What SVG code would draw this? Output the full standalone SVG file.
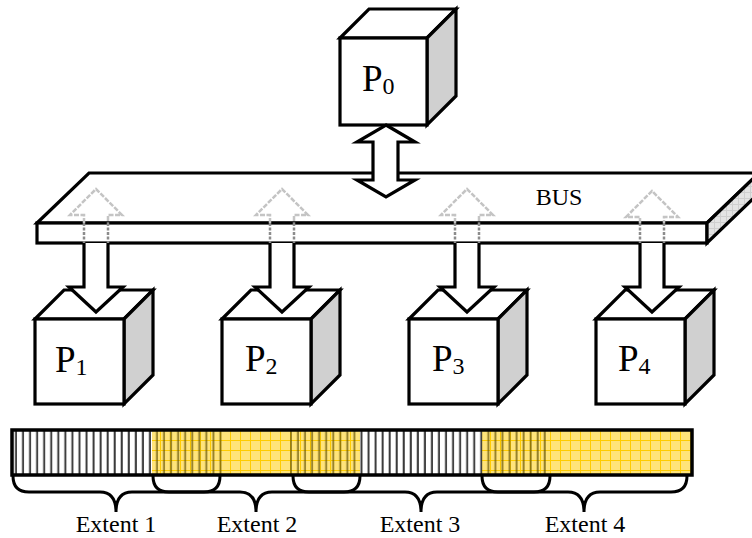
<svg xmlns="http://www.w3.org/2000/svg" width="752" height="538" viewBox="0 0 752 538">
<style>
.ln{stroke:#000;stroke-width:3.2;stroke-linejoin:miter;fill:#fff}
.side{stroke:#000;stroke-width:3.2;fill:#d0d0d0}
.lbl{font-family:"Liberation Serif","Times New Roman",serif;fill:#000}
.pl{font-size:37px}
.sub{font-size:24px}
.ext{font-size:24px;text-anchor:middle}
.ghost{fill:none;stroke:#c4c4c4;stroke-width:2.5;stroke-dasharray:5 1.5}
.ghostin{fill:none;stroke:#8c8c8c;stroke-width:2.5;stroke-dasharray:3 1.5}
.conn{fill:#fff;stroke:#000;stroke-width:3.2;stroke-linejoin:miter}
.brace{fill:none;stroke:#000;stroke-width:3}
</style>
<defs>
<pattern id="stripes" x="10" y="0" width="7.05" height="10" patternUnits="userSpaceOnUse">
<rect x="5" y="0" width="2" height="10" fill="#3a3a3a"/>
</pattern>
<pattern id="grid" x="0" y="430" width="10" height="10" patternUnits="userSpaceOnUse">
<rect width="10" height="10" fill="#ffe47a"/>
<rect x="0" y="0" width="10" height="1" fill="#ffcc00"/>
<rect x="0" y="0" width="1" height="10" fill="#ffcc00"/>
</pattern>
<pattern id="dstripes" x="10" y="0" width="7.05" height="10" patternUnits="userSpaceOnUse">
<rect x="5" y="0" width="2" height="10" fill="#5a4a00" opacity="0.65"/>
</pattern>
<pattern id="hatch" width="6" height="6" patternUnits="userSpaceOnUse">
<rect width="6" height="6" fill="#e4e4e4"/>
<rect width="6" height="1" fill="#cfcfcf"/>
<rect width="1" height="6" fill="#cfcfcf"/>
</pattern>
</defs>

<g id="bus">
<polygon class="ln" points="37,223 89,173 759,173 707,223"/>
<rect class="ln" x="37" y="223" width="670" height="20"/>
<polygon points="707,223 759,173 759,193 707,243" fill="url(#hatch)" stroke="#000" stroke-width="3.2"/>
<text class="lbl" x="559" y="205" font-size="24" text-anchor="middle">BUS</text>
</g>

<g id="P0">
<polygon class="ln" points="340,38 369,9 456,9 427,38"/>
<polygon class="side" points="427,38 456,9 456,96 427,125"/>
<rect class="ln" x="340" y="38" width="87" height="87"/>
<text class="lbl pl" x="362" y="91">P<tspan class="sub" dy="3">0</tspan></text>
</g>

<g id="P1">
<polygon class="ln" points="35,319 64,290 153,290 124,319"/>
<polygon class="side" points="124,319 153,290 153,375 124,404"/>
<rect class="ln" x="35" y="319" width="89" height="85"/>
<text class="lbl pl" x="55" y="372">P<tspan class="sub" dy="3">1</tspan></text>
</g>

<g id="P2">
<polygon class="ln" points="222,319 251,290 340,290 311,319"/>
<polygon class="side" points="311,319 340,290 340,375 311,404"/>
<rect class="ln" x="222" y="319" width="89" height="85"/>
<text class="lbl pl" x="245" y="371">P<tspan class="sub" dy="3">2</tspan></text>
</g>

<g id="P3">
<polygon class="ln" points="409,319 438,290 527,290 498,319"/>
<polygon class="side" points="498,319 527,290 527,375 498,404"/>
<rect class="ln" x="409" y="319" width="89" height="85"/>
<text class="lbl pl" x="432" y="371">P<tspan class="sub" dy="3">3</tspan></text>
</g>

<g id="P4">
<polygon class="ln" points="596,319 625,290 714,290 685,319"/>
<polygon class="side" points="685,319 714,290 714,375 685,404"/>
<rect class="ln" x="596" y="319" width="89" height="85"/>
<text class="lbl pl" x="618" y="371">P<tspan class="sub" dy="3">4</tspan></text>
</g>

<g id="memory">
<rect x="12" y="430" width="140" height="45" fill="#fff"/>
<rect x="12" y="430" width="140" height="45" fill="url(#stripes)"/>
<rect x="360" y="430" width="122" height="45" fill="#fff"/>
<rect x="360" y="430" width="122" height="45" fill="url(#stripes)"/>
<rect x="152" y="430" width="208" height="45" fill="url(#grid)"/>
<rect x="482" y="430" width="210" height="45" fill="url(#grid)"/>
<rect x="152" y="430" width="71" height="45" fill="url(#dstripes)"/>
<rect x="290" y="430" width="70" height="45" fill="url(#dstripes)"/>
<rect x="482" y="430" width="68" height="45" fill="url(#dstripes)"/>
<rect x="12" y="430" width="680" height="45" fill="none" stroke="#000" stroke-width="3.5"/>
</g>

<g id="extents">
<path class="brace" d="M13,476 Q13,492 29,492 L100,492 Q116,492 116,512 Q116,492 132,492 L204,492 Q220,492 220,476"/>
<path class="brace" d="M153,476 Q153,492 169,492 L240,492 Q256,492 256,512 Q256,492 272,492 L344,492 Q360,492 360,476"/>
<path class="brace" d="M293,476 Q293,492 309,492 L405,492 Q421,492 421,512 Q421,492 437,492 L534,492 Q550,492 550,476"/>
<path class="brace" d="M482,476 Q482,492 498,492 L568,492 Q584,492 584,512 Q584,492 600,492 L671,492 Q687,492 687,476"/>
<text class="lbl ext" x="116" y="532">Extent 1</text>
<text class="lbl ext" x="257" y="532">Extent 2</text>
<text class="lbl ext" x="420" y="532">Extent 3</text>
<text class="lbl ext" x="585" y="532">Extent 4</text>
</g>

<g id="connectors">
<path class="conn" d="M386,125 L415,142 L398,142 L398,180 L415,180 L386,197 L357,180 L373,180 L373,142 L357,142 Z"/>
<g id="c1">
<path class="ghost" d="M84,223 L84,215 L70,215 L96,189 L122,215 L108,215 L108,223"/>
<path class="ghostin" d="M84,223 L84,243 M108,223 L108,243"/>
<path class="conn" d="M84,243 L84,287 L69,287 L96,312 L123,287 L108,287 L108,243"/>
</g>
<g id="c2">
<path class="ghost" d="M270,223 L270,215 L256,215 L282,189 L308,215 L294,215 L294,223"/>
<path class="ghostin" d="M270,223 L270,243 M294,223 L294,243"/>
<path class="conn" d="M270,243 L270,287 L255,287 L282,312 L309,287 L294,287 L294,243"/>
</g>
<g id="c3">
<path class="ghost" d="M455,223 L455,215 L441,215 L467,189 L493,215 L479,215 L479,223"/>
<path class="ghostin" d="M455,223 L455,243 M479,223 L479,243"/>
<path class="conn" d="M455,243 L455,287 L440,287 L467,312 L494,287 L479,287 L479,243"/>
</g>
<g id="c4">
<path class="ghost" d="M640,223 L640,217 L626,217 L652,191 L678,217 L664,217 L664,223"/>
<path class="ghostin" d="M640,223 L640,243 M664,223 L664,243"/>
<path class="conn" d="M640,243 L640,287 L625,287 L652,312 L679,287 L664,287 L664,243"/>
</g>
</g>
</svg>
